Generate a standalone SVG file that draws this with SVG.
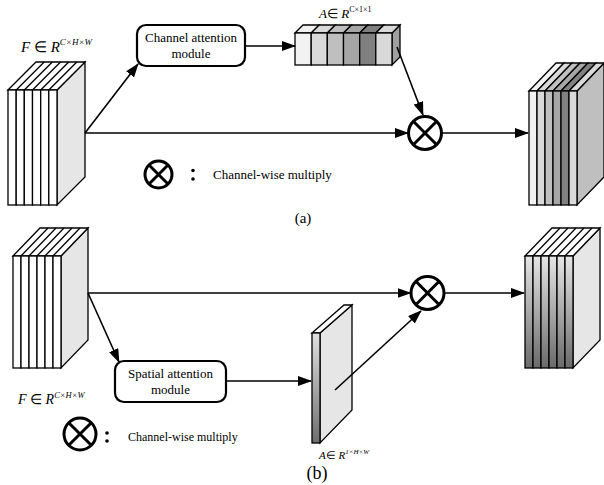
<svg xmlns="http://www.w3.org/2000/svg" width="604" height="485" viewBox="0 0 604 485">
  <defs>
    <marker id="arrow" markerUnits="userSpaceOnUse" markerWidth="14" markerHeight="10" refX="13" refY="5" orient="auto">
      <path d="M0,0 L14,5 L0,10 z" fill="#000"/>
    </marker>
    <linearGradient id="fadeDown" x1="0" y1="0" x2="0" y2="1">
      <stop offset="0" stop-color="#e6e6e6"/>
      <stop offset="1" stop-color="#6a6a6a"/>
    </linearGradient>
    <linearGradient id="mapEdge" x1="0" y1="0" x2="0" y2="1">
      <stop offset="0" stop-color="#e0e0e0"/>
      <stop offset="1" stop-color="#6e6e6e"/>
    </linearGradient>
  </defs>
  <style>
    .edge { stroke: #000; stroke-width: 1.3; fill: none; }
    .link { stroke: #000; stroke-width: 1.6; fill: none; marker-end: url(#arrow); }
    .box { fill: #fff; stroke: #000; stroke-width: 2.2; }
    .mul { fill: #fff; stroke: #000; stroke-width: 3; }
    .mulx { stroke: #000; stroke-width: 3; }
    .txt { font-family: "Liberation Serif", "Times New Roman", serif; fill: #000; }
    .it { font-style: italic; }
  </style>

  <!-- (a) input feature map F -->
  <g id="feature-in-a" stroke="#000" stroke-width="1.3">
    <polygon points="57,90 85,62 85,177 57,205" fill="#e6e6e6"/>
    <polygon points="8,90 36,62 85,62 57,90" fill="#fff"/>
    <path d="M16.2,90 L44.2,62 M24.3,90 L52.3,62 M32.5,90 L60.5,62 M40.7,90 L68.7,62 M48.8,90 L76.8,62" fill="none"/>
    <rect x="8" y="90" width="8.2" height="115" fill="#fff"/>
    <rect x="16.2" y="90" width="8.1" height="115" fill="#fff"/>
    <rect x="24.3" y="90" width="8.2" height="115" fill="#fff"/>
    <rect x="32.5" y="90" width="8.2" height="115" fill="#fff"/>
    <rect x="40.7" y="90" width="8.1" height="115" fill="#fff"/>
    <rect x="48.8" y="90" width="8.2" height="115" fill="#fff"/>
    <text class="txt" x="21" y="52" font-size="15" stroke="none"><tspan class="it">F</tspan> ∈ <tspan class="it">R</tspan><tspan class="it" font-size="9" dy="-7">C×H×W</tspan></text>
  </g>

  <!-- (a) channel attention module -->
  <g id="channel-attention">
    <rect class="box" x="137" y="25" width="108" height="41" rx="9"/>
    <text class="txt" x="191" y="42" font-size="13" text-anchor="middle">Channel attention</text>
    <text class="txt" x="191" y="58" font-size="13" text-anchor="middle">module</text>
  </g>

  <!-- (a) channel weights A -->
  <g id="channel-weights" stroke="#000" stroke-width="1.3">
    <polygon points="392,33 400,25 400,57 392,65" fill="#a0a0a0"/>
    <polygon points="295,33 303,25 319.2,25 311.2,33" fill="#f2f2f2"/>
    <polygon points="311.2,33 319.2,25 335.3,25 327.3,33" fill="#d9d9d9"/>
    <polygon points="327.3,33 335.3,25 351.5,25 343.5,33" fill="#bfbfbf"/>
    <polygon points="343.5,33 351.5,25 367.7,25 359.7,33" fill="#a6a6a6"/>
    <polygon points="359.7,33 367.7,25 383.8,25 375.8,33" fill="#808080"/>
    <polygon points="375.8,33 383.8,25 400,25 392,33" fill="#d9d9d9"/>
    <rect x="295" y="33" width="16.2" height="32" fill="#f2f2f2"/>
    <rect x="311.2" y="33" width="16.1" height="32" fill="#d9d9d9"/>
    <rect x="327.3" y="33" width="16.2" height="32" fill="#bfbfbf"/>
    <rect x="343.5" y="33" width="16.2" height="32" fill="#a6a6a6"/>
    <rect x="359.7" y="33" width="16.1" height="32" fill="#808080"/>
    <rect x="375.8" y="33" width="16.2" height="32" fill="#d9d9d9"/>
    <text class="txt" x="319" y="18" font-size="13" stroke="none"><tspan class="it">A</tspan>∈ <tspan class="it">R</tspan><tspan font-size="8" dy="-6">C×1×1</tspan></text>
  </g>

  <!-- (a) multiply node -->
  <g id="multiply-a">
    <circle class="mul" cx="425" cy="133" r="16.5"/>
    <path class="mulx" d="M413.3,121.3 L436.7,144.7 M436.7,121.3 L413.3,144.7"/>
  </g>

  <!-- (a) re-weighted output -->
  <g id="feature-out-a" stroke="#000" stroke-width="1.3">
    <polygon points="577,91 604,63 604,177 577,205" fill="#bfbfbf"/>
    <polygon points="529,91 556,63 564,63 537,91" fill="#f2f2f2"/>
    <polygon points="537,91 564,63 572,63 545,91" fill="#d9d9d9"/>
    <polygon points="545,91 572,63 580,63 553,91" fill="#bfbfbf"/>
    <polygon points="553,91 580,63 588,63 561,91" fill="#a6a6a6"/>
    <polygon points="561,91 588,63 596,63 569,91" fill="#808080"/>
    <polygon points="569,91 596,63 604,63 577,91" fill="#d9d9d9"/>
    <rect x="529" y="91" width="8" height="114" fill="#f2f2f2"/>
    <rect x="537" y="91" width="8" height="114" fill="#d9d9d9"/>
    <rect x="545" y="91" width="8" height="114" fill="#bfbfbf"/>
    <rect x="553" y="91" width="8" height="114" fill="#a6a6a6"/>
    <rect x="561" y="91" width="8" height="114" fill="#808080"/>
    <rect x="569" y="91" width="8" height="114" fill="#d9d9d9"/>
  </g>

  <!-- (a) legend and caption -->
  <g id="legend-a">
    <circle class="mul" cx="158.5" cy="174.5" r="13.5"/>
    <path class="mulx" d="M149,165 L168,184 M168,165 L149,184"/>
    <circle cx="193" cy="170.5" r="1.8" fill="#000"/>
    <circle cx="193" cy="179" r="1.8" fill="#000"/>
    <text class="txt" x="213" y="179" font-size="13">Channel-wise multiply</text>
    <text class="txt" x="303" y="223" font-size="15" text-anchor="middle">(a)</text>
  </g>

  <!-- (b) input feature map F -->
  <g id="feature-in-b" stroke="#000" stroke-width="1.3">
    <polygon points="61,256 88,228 88,340 61,368" fill="#e6e6e6"/>
    <polygon points="13,256 40,228 88,228 61,256" fill="#fff"/>
    <path d="M21,256 L48,228 M29,256 L56,228 M37,256 L64,228 M45,256 L72,228 M53,256 L80,228" fill="none"/>
    <rect x="13" y="256" width="8" height="112" fill="#fff"/>
    <rect x="21" y="256" width="8" height="112" fill="#fff"/>
    <rect x="29" y="256" width="8" height="112" fill="#fff"/>
    <rect x="37" y="256" width="8" height="112" fill="#fff"/>
    <rect x="45" y="256" width="8" height="112" fill="#fff"/>
    <rect x="53" y="256" width="8" height="112" fill="#fff"/>
    <text class="txt" x="18" y="404" font-size="14" stroke="none"><tspan class="it">F</tspan> ∈ <tspan class="it">R</tspan><tspan class="it" font-size="8.5" dy="-6">C×H×W</tspan></text>
  </g>

  <!-- (b) spatial attention module -->
  <g id="spatial-attention">
    <rect class="box" x="115" y="361" width="111" height="41" rx="9"/>
    <text class="txt" x="170.5" y="378" font-size="13" text-anchor="middle">Spatial attention</text>
    <text class="txt" x="170.5" y="394" font-size="13" text-anchor="middle">module</text>
  </g>

  <!-- (b) spatial weight map A -->
  <g id="spatial-map" stroke="#000" stroke-width="1.3">
    <polygon points="320,333 352,305 352,410 320,443" fill="#e6e6e6"/>
    <polygon points="312,333 344,305 352,305 320,333" fill="#fff"/>
    <rect x="312" y="333" width="8" height="110" fill="url(#mapEdge)"/>
    <text class="txt" x="319" y="459" font-size="11" stroke="none"><tspan class="it">A</tspan>∈ <tspan class="it">R</tspan><tspan class="it" font-size="7" dy="-5">1×H×W</tspan></text>
  </g>

  <!-- (b) multiply node -->
  <g id="multiply-b">
    <circle class="mul" cx="427.5" cy="293" r="16.5"/>
    <path class="mulx" d="M415.8,281.3 L439.2,304.7 M439.2,281.3 L415.8,304.7"/>
  </g>

  <!-- (b) re-weighted output -->
  <g id="feature-out-b" stroke="#000" stroke-width="1.3">
    <polygon points="573,256 600,228 600,340 573,368" fill="#e6e6e6"/>
    <polygon points="525,256 552,228 600,228 573,256" fill="#fff"/>
    <path d="M533,256 L560,228 M541,256 L568,228 M549,256 L576,228 M557,256 L584,228 M565,256 L592,228" fill="none"/>
    <rect x="525" y="256" width="8" height="112" fill="url(#fadeDown)"/>
    <rect x="533" y="256" width="8" height="112" fill="url(#fadeDown)"/>
    <rect x="541" y="256" width="8" height="112" fill="url(#fadeDown)"/>
    <rect x="549" y="256" width="8" height="112" fill="url(#fadeDown)"/>
    <rect x="557" y="256" width="8" height="112" fill="url(#fadeDown)"/>
    <rect x="565" y="256" width="8" height="112" fill="url(#fadeDown)"/>
  </g>

  <!-- (b) legend and caption -->
  <g id="legend-b">
    <circle class="mul" cx="80" cy="434" r="16"/>
    <path class="mulx" d="M68.7,422.7 L91.3,445.3 M91.3,422.7 L68.7,445.3"/>
    <circle cx="107" cy="433" r="1.8" fill="#000"/>
    <circle cx="107" cy="441" r="1.8" fill="#000"/>
    <text class="txt" x="128" y="441" font-size="12">Channel-wise multiply</text>
    <text class="txt" x="317" y="479" font-size="18" text-anchor="middle">(b)</text>
  </g>

  <!-- connectors -->
  <g id="connectors">
    <path class="link" d="M85,133 L138,64"/>
    <path class="link" d="M245,46 L295,46"/>
    <path class="link" d="M397,47 L423,115"/>
    <path class="link" d="M85,133 L408,133"/>
    <path class="link" d="M441.5,133 L528,133"/>
    <path class="link" d="M88,293 L410.5,293"/>
    <path class="link" d="M88,293 L119,362"/>
    <path class="link" d="M226,381 L311,381"/>
    <path class="link" d="M335,390 L421,311"/>
    <path class="link" d="M444,293 L524,293"/>
  </g>
</svg>
